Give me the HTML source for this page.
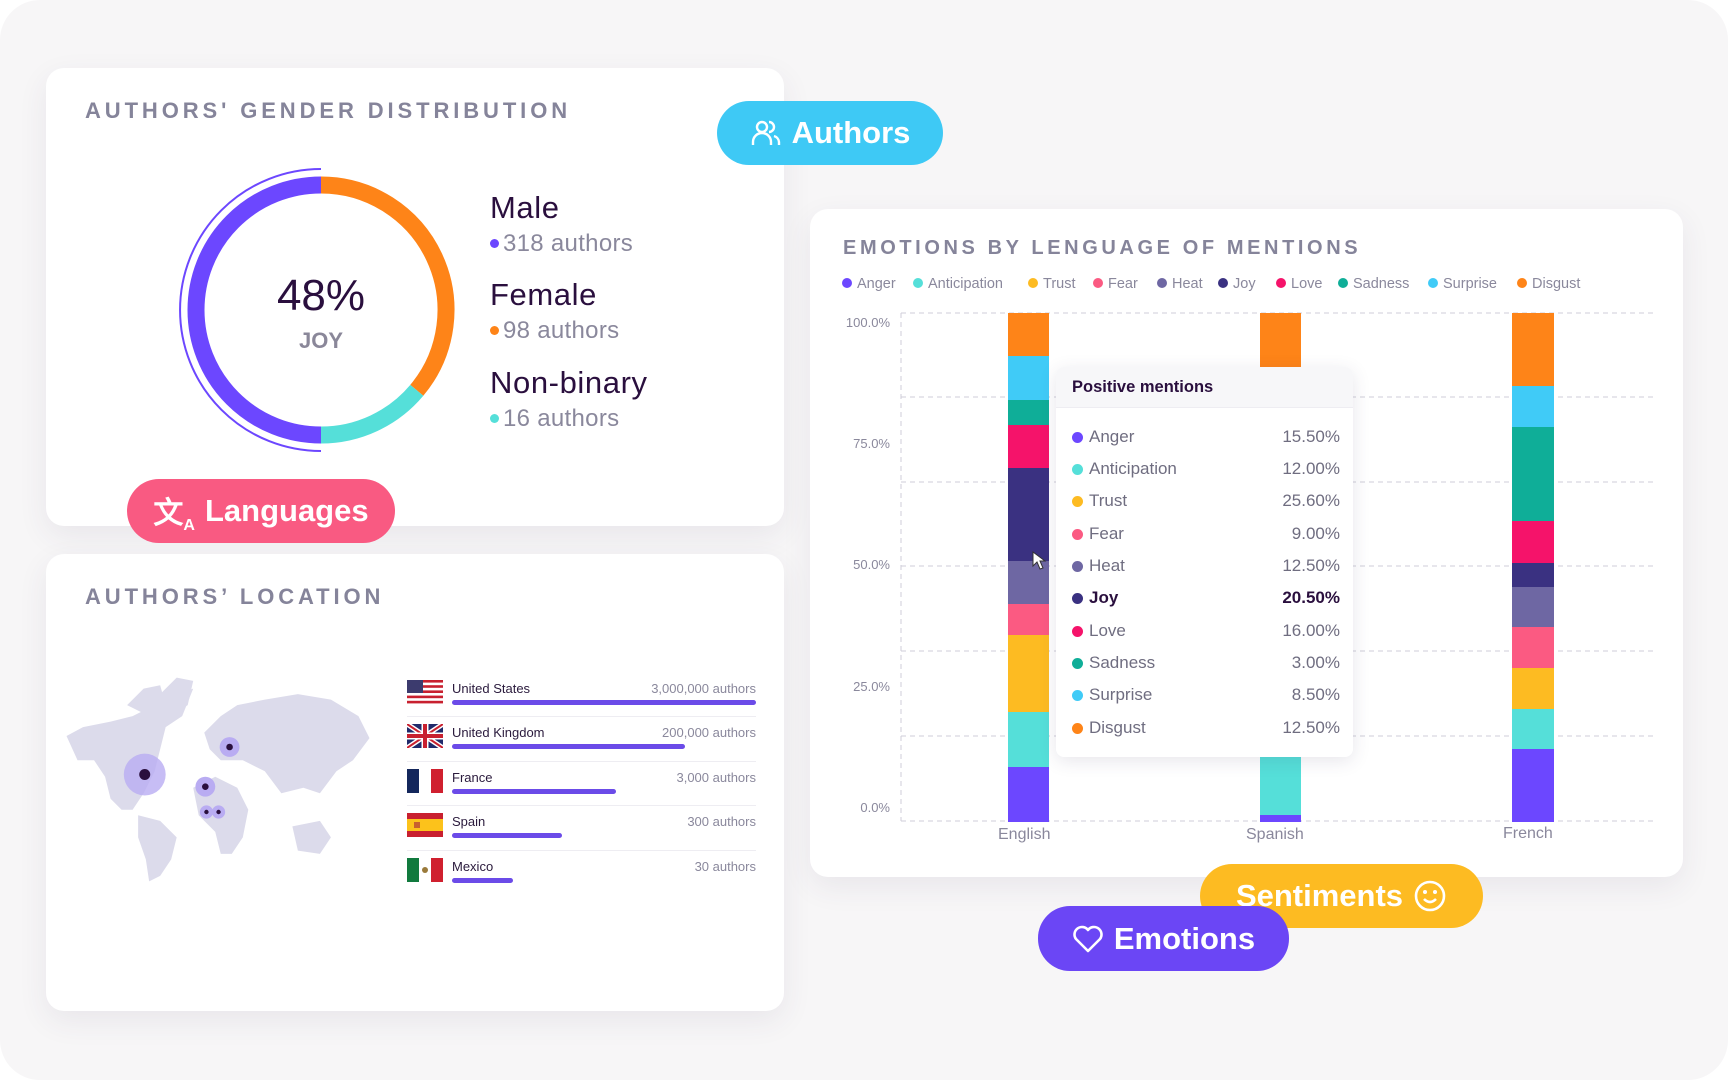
<!DOCTYPE html>
<html><head><meta charset="utf-8"><style>
*{margin:0;padding:0;box-sizing:border-box}
body{width:1728px;height:1080px;overflow:hidden;background:#fff;font-family:"Liberation Sans",sans-serif;position:relative}
.bg{position:absolute;left:0;top:0;width:1728px;height:1080px;background:#f7f6f7;border-radius:40px}
.card{position:absolute;background:#fff;border-radius:18px;box-shadow:0 10px 30px rgba(60,50,90,0.08)}
.abs{position:absolute;white-space:nowrap}
.title{color:#85849a;font-weight:bold;font-size:22px;letter-spacing:3.9px}
.pill{position:absolute;border-radius:32px;color:#fff;font-weight:bold;display:flex;align-items:center;justify-content:center;font-size:31px;gap:10px}
.dot{display:inline-block;border-radius:50%}
.lg{position:absolute;top:276px;font-size:14.5px;color:#8a889c;white-space:nowrap}
.lg i{display:inline-block;width:10px;height:10px;border-radius:50%;margin-right:5px;vertical-align:0px}
.yl{position:absolute;font-size:13px;color:#8a889c;right:838px}
.tr{position:absolute;left:1070px;width:270px;font-size:17px;color:#6f6d80}
.tr i{position:absolute;left:2px;top:5px;width:11px;height:11px;border-radius:50%}
.tr span{position:absolute;left:19px}
.tr b{position:absolute;right:0;font-weight:normal}
.cn{position:absolute;left:452px;font-size:13px;color:#2a1a3c}
.ca{position:absolute;right:972px;font-size:13px;color:#8a889c}
.bar{position:absolute;left:452px;height:5px;border-radius:3px;background:#6b4be8}
.sep{position:absolute;left:407px;width:349px;height:1px;background:#eeedf2}
.gt{position:absolute;font-size:31px;color:#2a0f3e;letter-spacing:0.6px;white-space:nowrap}
.gs{position:absolute;font-size:24px;color:#8a889c;letter-spacing:0.3px;white-space:nowrap}
</style></head><body>
<div class="bg"></div>

<!-- Card 1 -->
<div class="card" style="left:46px;top:68px;width:738px;height:458px"></div>
<div class="abs title" style="left:85px;top:98px">AUTHORS' GENDER DISTRIBUTION</div>
<svg class="abs" style="left:0;top:0" width="800" height="560">
<path d="M321,185 A125,125 0 0 1 416.8,390.3" fill="none" stroke="#fe8418" stroke-width="17"/>
<path d="M416.8,390.3 A125,125 0 0 1 321,435" fill="none" stroke="#55dfd9" stroke-width="17"/>
<path d="M321,435 A125,125 0 0 1 321,185" fill="none" stroke="#6c47ff" stroke-width="17"/>
<path d="M321,169 A141,141 0 0 0 321,451" fill="none" stroke="#6c47ff" stroke-width="2"/>
<text x="321" y="310" text-anchor="middle" font-size="44" fill="#2a0f3e" font-family="Liberation Sans">48%</text>
<text x="321" y="348" text-anchor="middle" font-size="22" font-weight="bold" fill="#8a8799" font-family="Liberation Sans">JOY</text>
</svg>
<div class="gt" style="left:490px;top:190px">Male</div>
<div class="gs" style="left:490px;top:230px"><span class="dot" style="width:9px;height:9px;background:#6c47ff;margin-right:4px;vertical-align:3px"></span>318 authors</div>
<div class="gt" style="left:490px;top:277px">Female</div>
<div class="gs" style="left:490px;top:317px"><span class="dot" style="width:9px;height:9px;background:#fe8418;margin-right:4px;vertical-align:3px"></span>98 authors</div>
<div class="gt" style="left:490px;top:365px">Non-binary</div>
<div class="gs" style="left:490px;top:405px"><span class="dot" style="width:9px;height:9px;background:#55dfd9;margin-right:4px;vertical-align:3px"></span>16 authors</div>

<!-- Card 2 -->
<div class="card" style="left:46px;top:554px;width:738px;height:457px"></div>
<div class="abs title" style="left:85px;top:584px">AUTHORS’ LOCATION</div>
<svg class="abs" style="left:61px;top:672px" width="314" height="215" viewBox="55 610 285 195">
<g fill="#dcdbeb">
<polygon points="60,668 75,660 100,655 120,650 140,640 160,630 175,625 165,650 150,660 145,680 140,700 130,720 120,735 110,735 100,725 95,705 85,690 70,690"/>
<polygon points="115,640 130,625 145,622 150,640 135,650"/>
<polygon points="145,630 160,615 175,618 170,640 155,650"/>
<polygon points="125,740 145,745 160,760 155,780 145,795 135,800 132,780 125,760"/>
<polygon points="185,665 200,650 215,640 240,635 270,630 300,635 325,650 335,670 320,690 305,700 290,720 275,715 255,720 240,700 220,690 200,690 190,680"/>
<polygon points="175,715 195,705 215,715 225,735 220,760 210,775 200,775 195,755 180,740"/>
<polygon points="265,750 290,745 300,760 290,775 270,772"/>
</g>
<circle cx="131" cy="703" r="19" fill="#b9acf2" opacity=".8"/><circle cx="131" cy="703" r="5" fill="#2a0f3e"/>
<circle cx="208" cy="678" r="9" fill="#b9acf2"/><circle cx="208" cy="678" r="3" fill="#2a0f3e"/>
<circle cx="186" cy="714" r="9" fill="#b9acf2"/><circle cx="186" cy="714" r="3" fill="#2a0f3e"/>
<circle cx="187" cy="737" r="6" fill="#b9acf2"/><circle cx="198" cy="737" r="6" fill="#b9acf2"/>
<circle cx="187" cy="737" r="2" fill="#2a0f3e"/><circle cx="198" cy="737" r="2" fill="#2a0f3e"/>
</svg>
<svg class="abs" style="left:407px;top:680px" width="36" height="24"><rect width="36" height="24" fill="#fff"/><g fill="#c8202f"><rect y="0" width="36" height="2.6"/><rect y="5.2" width="36" height="2.6"/><rect y="10.4" width="36" height="2.6"/><rect y="15.6" width="36" height="2.6"/><rect y="20.8" width="36" height="2.6"/></g><rect width="16" height="13" fill="#3c3b6e"/></svg>
<svg class="abs" style="left:407px;top:724px" width="36" height="24"><rect width="36" height="24" fill="#1f2a6b"/><path d="M0,0 L36,24 M36,0 L0,24" stroke="#fff" stroke-width="5"/><path d="M0,0 L36,24 M36,0 L0,24" stroke="#c8202f" stroke-width="2"/><path d="M18,0 V24 M0,12 H36" stroke="#fff" stroke-width="7"/><path d="M18,0 V24 M0,12 H36" stroke="#c8202f" stroke-width="4"/></svg>
<svg class="abs" style="left:407px;top:769px" width="36" height="24"><rect width="12" height="24" fill="#14275c"/><rect x="12" width="12" height="24" fill="#fff"/><rect x="24" width="12" height="24" fill="#d0202f"/></svg>
<svg class="abs" style="left:407px;top:813px" width="36" height="24"><rect width="36" height="24" fill="#c8202f"/><rect y="6" width="36" height="12" fill="#fcc21b"/><rect x="7" y="9" width="6" height="6" fill="#c8602f"/></svg>
<svg class="abs" style="left:407px;top:858px" width="36" height="24"><rect width="12" height="24" fill="#117a3e"/><rect x="12" width="12" height="24" fill="#fff"/><rect x="24" width="12" height="24" fill="#d0202f"/><circle cx="18" cy="12" r="3" fill="#9a7a3a"/></svg>
<div class="cn" style="top:681px">United States</div><div class="ca" style="top:681px">3,000,000 authors</div><div class="bar" style="top:700px;width:304px"></div>
<div class="sep" style="top:716px"></div>
<div class="cn" style="top:725px">United Kingdom</div><div class="ca" style="top:725px">200,000 authors</div><div class="bar" style="top:744px;width:233px"></div>
<div class="sep" style="top:761px"></div>
<div class="cn" style="top:770px">France</div><div class="ca" style="top:770px">3,000 authors</div><div class="bar" style="top:789px;width:164px"></div>
<div class="sep" style="top:805px"></div>
<div class="cn" style="top:814px">Spain</div><div class="ca" style="top:814px">300 authors</div><div class="bar" style="top:833px;width:110px"></div>
<div class="sep" style="top:850px"></div>
<div class="cn" style="top:859px">Mexico</div><div class="ca" style="top:859px">30 authors</div><div class="bar" style="top:878px;width:61px"></div>

<!-- Chart card -->
<div class="card" style="left:810px;top:209px;width:873px;height:668px"></div>
<div class="abs title" style="left:843px;top:237px;font-size:20px;letter-spacing:3.6px">EMOTIONS BY LENGUAGE OF MENTIONS</div>
<div class="lg" style="left:842px"><i style="background:#6c47ff"></i>Anger</div>
<div class="lg" style="left:913px"><i style="background:#55dfd9"></i>Anticipation</div>
<div class="lg" style="left:1028px"><i style="background:#fdbb22"></i>Trust</div>
<div class="lg" style="left:1093px"><i style="background:#fb5a82"></i>Fear</div>
<div class="lg" style="left:1157px"><i style="background:#6e67a3"></i>Heat</div>
<div class="lg" style="left:1218px"><i style="background:#3a3181"></i>Joy</div>
<div class="lg" style="left:1276px"><i style="background:#f5136a"></i>Love</div>
<div class="lg" style="left:1338px"><i style="background:#0fae98"></i>Sadness</div>
<div class="lg" style="left:1428px"><i style="background:#40cbf7"></i>Surprise</div>
<div class="lg" style="left:1517px"><i style="background:#fe8418"></i>Disgust</div>
<svg class="abs" style="left:0;top:0" width="1728" height="1080">
<g stroke="#cfced8" stroke-width="1" stroke-dasharray="5,4" fill="none">
<line x1="901" y1="313" x2="1656" y2="313"/><line x1="901" y1="397" x2="1656" y2="397"/>
<line x1="901" y1="482" x2="1656" y2="482"/><line x1="901" y1="566" x2="1656" y2="566"/>
<line x1="901" y1="651" x2="1656" y2="651"/><line x1="901" y1="736" x2="1656" y2="736"/>
<line x1="901" y1="821" x2="1656" y2="821"/><line x1="901" y1="313" x2="901" y2="821"/>
</g>
<rect x="1008" y="313" width="41" height="43" fill="#fe8418"/>
<rect x="1008" y="356" width="41" height="44" fill="#40cbf7"/>
<rect x="1008" y="400" width="41" height="25" fill="#0fae98"/>
<rect x="1008" y="425" width="41" height="43" fill="#f5136a"/>
<rect x="1008" y="468" width="41" height="93" fill="#3a3181"/>
<rect x="1008" y="561" width="41" height="43" fill="#6e67a3"/>
<rect x="1008" y="604" width="41" height="31" fill="#fb5a82"/>
<rect x="1008" y="635" width="41" height="77" fill="#fdbb22"/>
<rect x="1008" y="712" width="41" height="55" fill="#55dfd9"/>
<rect x="1008" y="767" width="41" height="55" fill="#6c47ff"/>
<rect x="1260" y="313" width="41" height="54" fill="#fe8418"/>
<rect x="1260" y="367" width="41" height="390" fill="#40cbf7"/>
<rect x="1260" y="757" width="41" height="58" fill="#55dfd9"/>
<rect x="1260" y="815" width="41" height="7" fill="#6c47ff"/>
<rect x="1512" y="313" width="42" height="73" fill="#fe8418"/>
<rect x="1512" y="386" width="42" height="41" fill="#40cbf7"/>
<rect x="1512" y="427" width="42" height="94" fill="#0fae98"/>
<rect x="1512" y="521" width="42" height="42" fill="#f5136a"/>
<rect x="1512" y="563" width="42" height="24" fill="#3a3181"/>
<rect x="1512" y="587" width="42" height="40" fill="#6e67a3"/>
<rect x="1512" y="627" width="42" height="41" fill="#fb5a82"/>
<rect x="1512" y="668" width="42" height="41" fill="#fdbb22"/>
<rect x="1512" y="709" width="42" height="40" fill="#55dfd9"/>
<rect x="1512" y="749" width="42" height="73" fill="#6c47ff"/>
<path d="M1033,552 l0,14 l4,-4 l3,7 l3,-1 l-3,-7 l5,0 z" fill="#fff" stroke="#333" stroke-width="1"/>
</svg>
<div class="yl" style="top:315px">100.0%</div>
<div class="yl" style="top:436px">75.0%</div>
<div class="yl" style="top:557px">50.0%</div>
<div class="yl" style="top:679px">25.0%</div>
<div class="yl" style="top:800px">0.0%</div>
<div class="abs" style="left:998px;top:826px;font-size:16px;color:#8a889c">English</div>
<div class="abs" style="left:1246px;top:826px;font-size:16px;color:#8a889c">Spanish</div>
<div class="abs" style="left:1503px;top:825px;font-size:16px;color:#8a889c">French</div>

<!-- Tooltip -->
<div class="card" style="left:1056px;top:367px;width:297px;height:390px;border-radius:8px;box-shadow:0 4px 18px rgba(60,50,90,0.12);overflow:hidden">
<div style="height:41px;background:#f7f7f9;border-bottom:1px solid #eeedf2"></div></div>
<div class="abs" style="left:1072px;top:378px;font-size:16.5px;font-weight:bold;color:#2a0f3e">Positive mentions</div>
<div class="tr" style="top:427px"><i style="background:#6c47ff"></i><span>Anger</span><b>15.50%</b></div>
<div class="tr" style="top:459px"><i style="background:#55dfd9"></i><span>Anticipation</span><b>12.00%</b></div>
<div class="tr" style="top:491px"><i style="background:#fdbb22"></i><span>Trust</span><b>25.60%</b></div>
<div class="tr" style="top:524px"><i style="background:#fb5a82"></i><span>Fear</span><b>9.00%</b></div>
<div class="tr" style="top:556px"><i style="background:#6e67a3"></i><span>Heat</span><b>12.50%</b></div>
<div class="tr" style="top:588px;color:#2a0f3e;font-weight:bold"><i style="background:#3a3181"></i><span>Joy</span><b style="font-weight:bold">20.50%</b></div>
<div class="tr" style="top:621px"><i style="background:#f5136a"></i><span>Love</span><b>16.00%</b></div>
<div class="tr" style="top:653px"><i style="background:#0fae98"></i><span>Sadness</span><b>3.00%</b></div>
<div class="tr" style="top:685px"><i style="background:#40cbf7"></i><span>Surprise</span><b>8.50%</b></div>
<div class="tr" style="top:718px"><i style="background:#fe8418"></i><span>Disgust</span><b>12.50%</b></div>

<!-- Pills -->
<div class="pill" style="left:717px;top:101px;width:226px;height:64px;background:#3ec9f5">
<svg width="32" height="30" viewBox="0 0 32 30"><g fill="none" stroke="#fff" stroke-width="2.4"><circle cx="12" cy="9" r="5"/><path d="M3,27 v-3 a8,8 0 0 1 18,0 v3"/><path d="M19,4 a5,5 0 0 1 0,10"/><path d="M24,18 a7,7 0 0 1 5,6 v3"/></g></svg>Authors</div>
<div class="pill" style="left:127px;top:479px;width:268px;height:64px;background:#f95a82">
<span style="font-size:30px">文<sub style="font-size:16px">A</sub></span>Languages</div>
<div class="pill" style="left:1200px;top:864px;width:283px;height:64px;background:#fdbb22">Sentiments
<svg width="34" height="34" viewBox="0 0 34 34"><g fill="none" stroke="#fff" stroke-width="2.6"><circle cx="17" cy="17" r="14"/><path d="M11,20 q6,6 12,0"/></g><circle cx="12" cy="13" r="2" fill="#fff"/><circle cx="22" cy="13" r="2" fill="#fff"/></svg></div>
<div class="pill" style="left:1038px;top:906px;width:251px;height:65px;background:#6b46f5">
<svg width="32" height="30" viewBox="0 0 32 30"><path d="M16,27 L4,15 a7,7 0 0 1 12,-9 a7,7 0 0 1 12,9 z" fill="none" stroke="#fff" stroke-width="2.6" stroke-linejoin="round"/></svg>Emotions</div>
</body></html>
